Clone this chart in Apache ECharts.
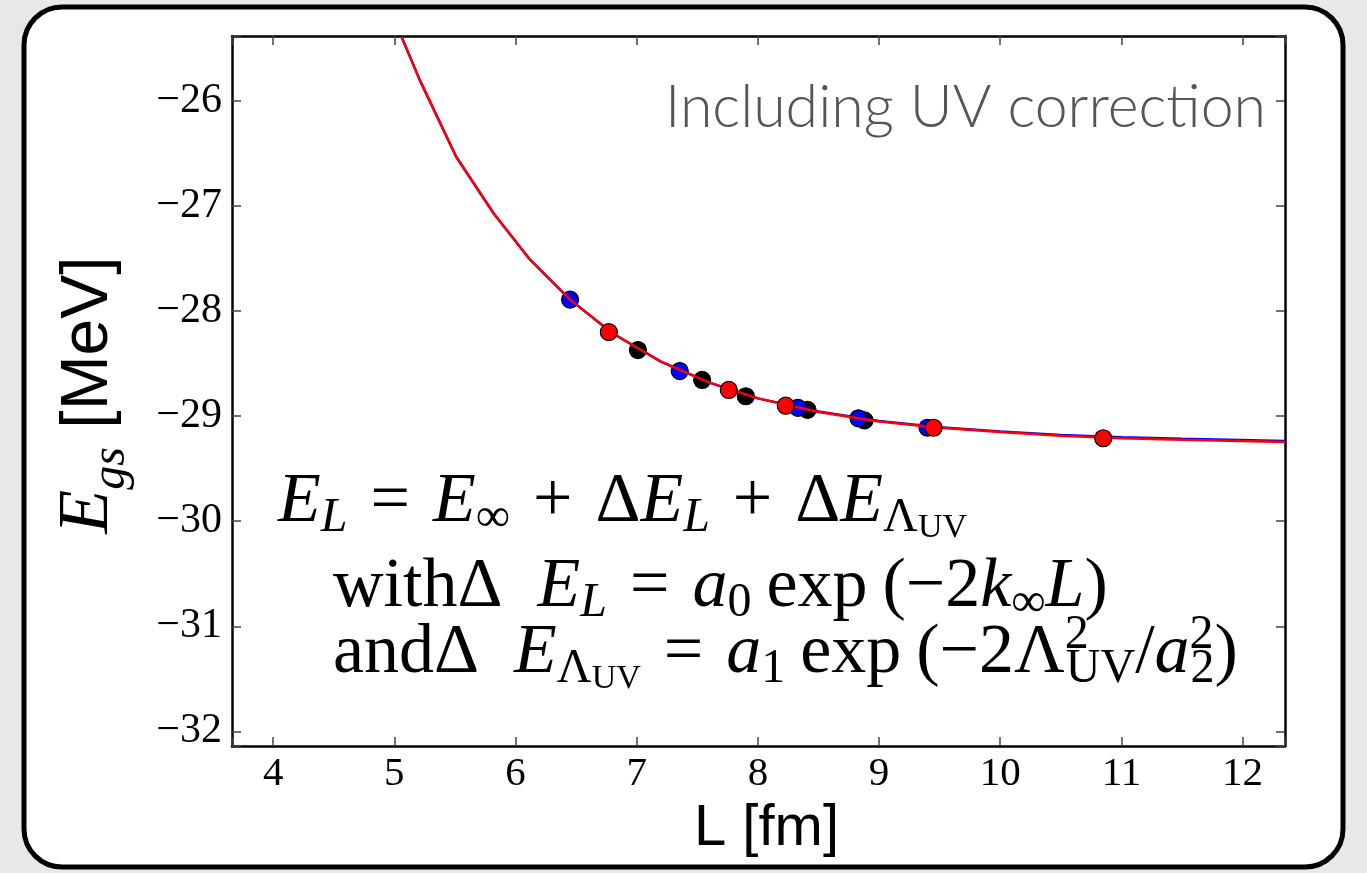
<!DOCTYPE html>
<html>
<head>
<meta charset="utf-8">
<script src="https://cdn.jsdelivr.net/npm/echarts@6/dist/echarts.min.js"></script>
<style>
html,body{margin:0;padding:0;background:#e8e8ea;}
#c{width:1367px;height:873px;}
</style>
</head>
<body>
<div id="c"></div>
<script>
// ---- data ----
const blackL = [7.01, 7.54, 7.90, 8.41, 8.88];
const blackE = [-28.37, -28.655, -28.81, -28.94, -29.04];
const blueL  = [6.45, 7.355, 8.33, 8.83, 9.40];
const blueE  = [-27.89, -28.57, -28.92, -29.02, -29.11];
const redL   = [6.77, 7.76, 8.23, 9.45, 10.85];
const redE   = [-28.20, -28.75, -28.90, -29.11, -29.21];
const curveL    = [5.06, 5.21, 5.51, 5.82, 6.12, 6.45, 6.80, 7.20, 7.60, 8.00, 8.50, 9.00, 9.50, 10.00, 10.50, 11.00, 11.50, 12.35];
const curveRedE = [-25.39, -25.80, -26.53, -27.07, -27.51, -27.89, -28.21, -28.48, -28.68, -28.83, -28.96, -29.05, -29.11, -29.15, -29.185, -29.21, -29.225, -29.245];
const curveBlueE= [-25.39, -25.80, -26.53, -27.07, -27.51, -27.89, -28.21, -28.48, -28.68, -28.83, -28.955, -29.045, -29.105, -29.145, -29.178, -29.20, -29.215, -29.235];
const xRange = [3.66, 12.35];
const yRange = [-32.14, -25.38];
const titleText = 'Including UV correction';
const xName = 'L [fm]';

const zip = (a, b) => a.map((v, i) => [v, b[i]]);

const chart = echarts.init(document.getElementById('c'), null, {renderer: 'canvas'});
const serif = '"Liberation Serif", "DejaVu Serif", serif';
const F = 70;
const rich = {
  it:    {fontFamily: serif, fontStyle: 'italic', fontSize: F, lineHeight: F, verticalAlign: 'top', padding: [10, 0, 0, 0], fill: '#000'},
  rm:    {fontFamily: serif, fontSize: F, lineHeight: F, verticalAlign: 'top', padding: [10, 0, 0, 0], fill: '#000'},
  op:    {fontFamily: serif, fontSize: F, lineHeight: F, verticalAlign: 'top', padding: [10, 23, 0, 23], fill: '#000'},
  sp:    {fontFamily: serif, fontSize: F, lineHeight: F, verticalAlign: 'top', padding: [10, 15, 0, 15], fill: '#000'},
  sub:   {fontFamily: serif, fontStyle: 'italic', fontSize: 48, lineHeight: 48, verticalAlign: 'top', padding: [36, 0, 0, 0], fill: '#000'},
  subrm: {fontFamily: serif, fontSize: 48, lineHeight: 48, verticalAlign: 'top', padding: [36, 0, 0, 0], fill: '#000'},
  subsub:{fontFamily: serif, fontSize: 34, lineHeight: 34, verticalAlign: 'top', padding: [53, 0, 0, 0], fill: '#000'},
  sup0:  {fontFamily: serif, fontSize: 48, lineHeight: 48, verticalAlign: 'top', padding: [2, 0, 0, 0], width: 1, fill: '#000'}
};
const eq1 = '{it|E}{sub|L}{op|=}{it|E}{subrm|∞}{op|+}{rm|Δ}{it|E}{sub|L}{op|+}{rm|Δ}{it|E}{subrm|Λ}{subsub|UV}';
const eq2 = '{rm|withΔ  }{it|E}{sub|L}{op|=}{it|a}{subrm|0}{sp|exp}{rm|(−2}{it|k}{subrm|∞}{it|L}{rm|)}';
const eq3 = '{rm|andΔ  }{it|E}{subrm|Λ}{subsub|UV}{op|=}{it|a}{subrm|1}{sp|exp}{rm|(−2Λ}{sup0|2}{subrm|UV}{rm|/}{it|a}{sup0|2}{subrm|2}{rm|)}';

const intLabel = v => (Math.abs(v - Math.round(v)) < 1e-6) ? String(Math.round(v)) : '';
const negLabel = v => (Math.abs(v - Math.round(v)) < 1e-6) ? '\u2212' + Math.abs(Math.round(v)) : '';

const tickStyle = {show: true, inside: true, length: 9, lineStyle: {color: '#444', width: 1.5}};
const lineStyle = {show: true, onZero: false, lineStyle: {color: '#000', width: 2.5}};
const pt = (c) => ({color: c, borderColor: '#000', borderWidth: 1.2, opacity: 1});

chart.setOption({
  animation: false,
  backgroundColor: 'transparent',
  grid: {left: 232, top: 36, right: 82, bottom: 127, show: false},
  xAxis: [
    {type: 'value', min: xRange[0], max: xRange[1], minInterval: 1, maxInterval: 1, position: 'bottom',
     axisLine: lineStyle, axisTick: tickStyle, splitLine: {show: false},
     axisLabel: {formatter: intLabel, fontFamily: serif, fontSize: 41, color: '#000', margin: 8},
     name: xName, nameLocation: 'middle', nameGap: 43,
     nameTextStyle: {fontFamily: '"Liberation Sans", Arial, sans-serif', fontSize: 58, color: '#000', padding: [0, 0, 0, 16]}},
    {type: 'value', min: xRange[0], max: xRange[1], minInterval: 1, maxInterval: 1, position: 'top',
     axisLine: lineStyle, axisTick: tickStyle, splitLine: {show: false}, axisLabel: {show: false}}
  ],
  yAxis: [
    {type: 'value', min: yRange[0], max: yRange[1], minInterval: 1, maxInterval: 1, position: 'left',
     axisLine: lineStyle, axisTick: tickStyle, splitLine: {show: false},
     axisLabel: {formatter: negLabel, fontFamily: serif, fontSize: 42, color: '#000', margin: 10}},
    {type: 'value', min: yRange[0], max: yRange[1], minInterval: 1, maxInterval: 1, position: 'right',
     axisLine: lineStyle, axisTick: tickStyle, splitLine: {show: false}, axisLabel: {show: false}}
  ],
  series: [
    {type: 'scatter', name: 'black', data: zip(blackL, blackE), symbolSize: 17, z: 2, itemStyle: pt('#000')},
    {type: 'scatter', name: 'blue', data: zip(blueL, blueE), symbolSize: 17, z: 3, itemStyle: pt('#0000ff')},
    {type: 'line', name: 'fit blue', data: zip(curveL, curveBlueE), showSymbol: false, z: 4, clip: true,
     lineStyle: {color: '#0000ff', width: 2.5}},
    {type: 'line', name: 'fit red', data: zip(curveL, curveRedE), showSymbol: false, z: 5, clip: true,
     lineStyle: {color: '#ff0000', width: 2.5}},
    {type: 'scatter', name: 'red', data: zip(redL, redE), symbolSize: 17, z: 6, itemStyle: pt('#ff0000')}
  ],
  graphic: [
    {type: 'rect', z: -100, silent: true, shape: {x: 24, y: 7, width: 1319, height: 860, r: 38},
     style: {fill: '#fff', stroke: '#000', lineWidth: 5}},
    {type: 'text', z: 10, x: 1266, y: 108, style: {text: titleText, align: 'right', verticalAlign: 'middle',
      fontFamily: 'Lato, "Open Sans", sans-serif', fontWeight: 300, fontSize: 59, fill: '#555'}},
    {type: 'text', z: 10, x: 88, y: 395, rotation: Math.PI / 2,
     style: {text: '{e|E}{g|gs}{m| [MeV]}', align: 'center', verticalAlign: 'middle',
      rich: {
        e: {fontFamily: serif, fontStyle: 'italic', fontSize: 72, lineHeight: 72, verticalAlign: 'top', padding: [0, 0, 0, 0], fill: '#000'},
        g: {fontFamily: serif, fontStyle: 'italic', fontSize: 48, lineHeight: 48, verticalAlign: 'top', padding: [35, 0, 0, 0], fill: '#000'},
        m: {fontFamily: '"Liberation Sans", Arial, sans-serif', fontSize: 66, lineHeight: 66, verticalAlign: 'top', padding: [4, 0, 0, 0], fill: '#000'}
      }}},
    {type: 'text', z: 10, x: 278, y: 458, style: {text: eq1, rich: rich}},
    {type: 'text', z: 10, x: 333, y: 543, style: {text: eq2, rich: rich}},
    {type: 'text', z: 10, x: 333, y: 609, style: {text: eq3, rich: rich}}
  ]
});
</script>
</body>
</html>
